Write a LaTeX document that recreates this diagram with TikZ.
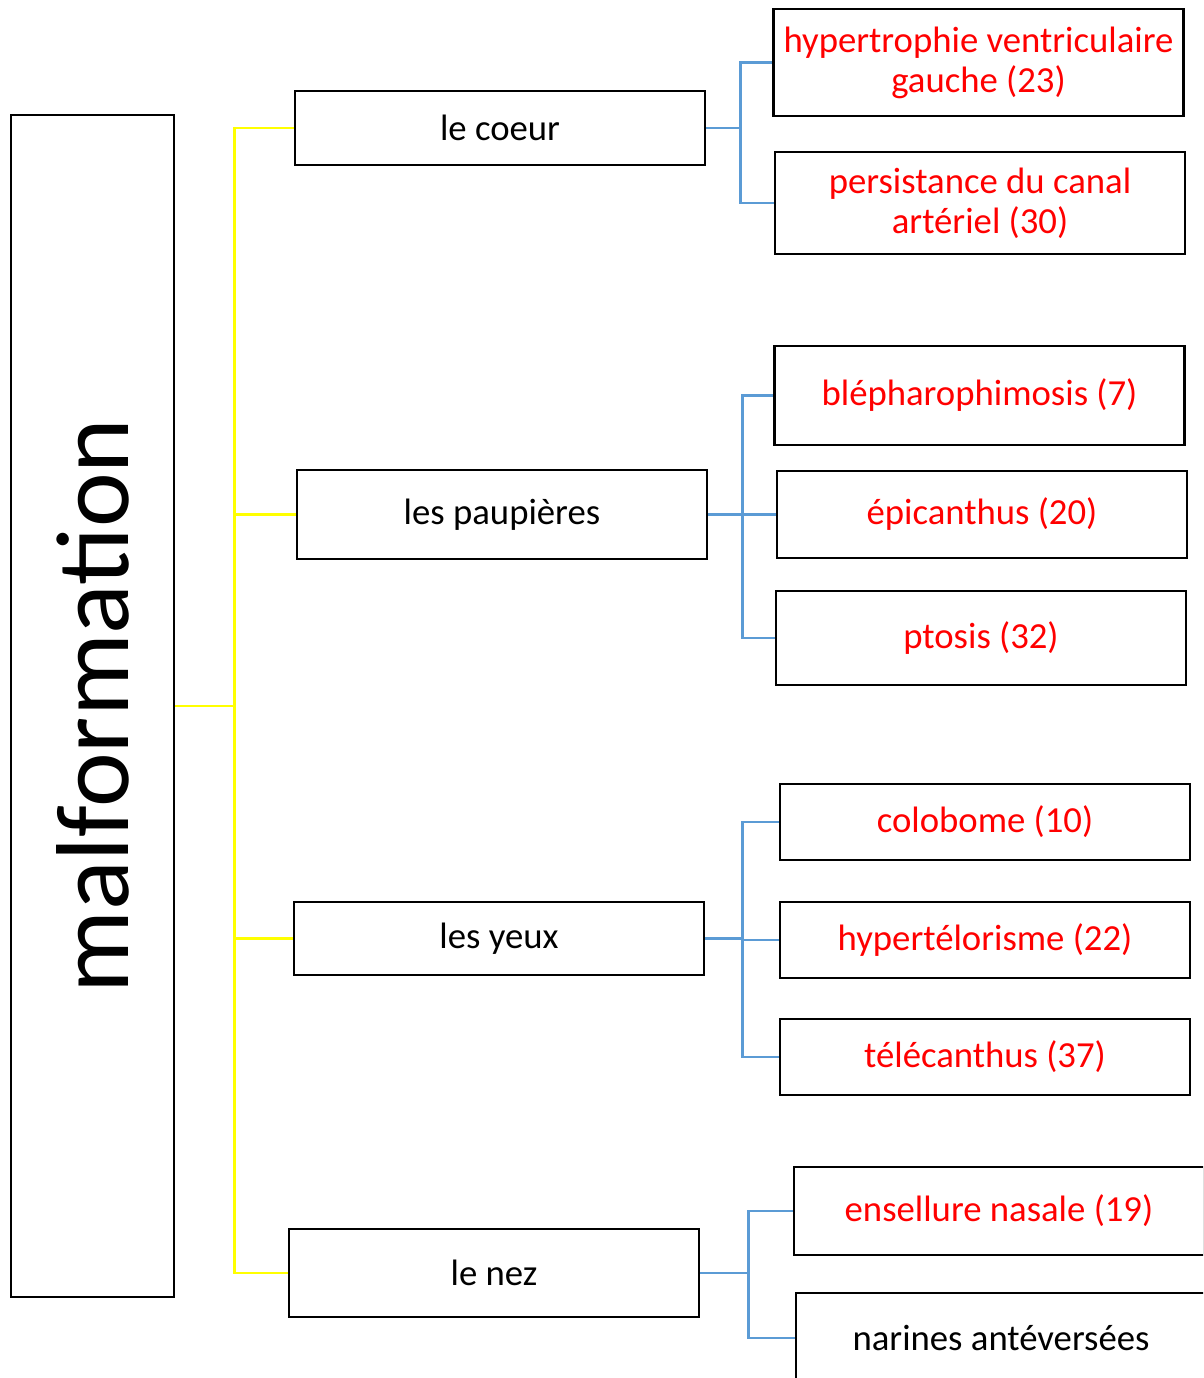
\documentclass[tikz,border=0pt]{standalone}
\usepackage{fontspec}
\setmainfont{Carlito}
\usepackage{tikz}
\usetikzlibrary{positioning}
\definecolor{branchyellow}{RGB}{255,255,0}
\definecolor{leafblue}{RGB}{91,155,213}
\definecolor{findred}{RGB}{255,0,0}

\begin{document}
\begin{tikzpicture}[
    every node/.style={font=\fontsize{20.9}{22.7}\selectfont},
    box/.style={draw=black, line width=1.6pt, fill=white, align=center, inner sep=2pt},
    organ/.style={box, minimum width=8.2cm},
    finding/.style={box, minimum width=8.2cm, text=findred},
    yline/.style={draw=branchyellow, line width=1.4pt},
    bline/.style={draw=leafblue, line width=1.3pt}]
  \path[clip, use as bounding box] (0,0) rectangle (24.06,-27.56);
  % root
  \node[box, rotate=90, minimum width=23.64cm, minimum height=3.26cm,
        font=\fontsize{59}{60}\selectfont] (malf) at (1.85,-14.12) {malformation};
  % organs
  \node[organ, minimum height=1.48cm] (coeur) at (10.00,-2.56)  {le coeur};
  \node[organ, minimum height=1.78cm] (paup)  at (10.04,-10.29) {les paupières};
  \node[organ, minimum height=1.46cm] (yeux)  at (9.98,-18.77)  {les yeux};
  \node[organ, minimum height=1.76cm] (nez)   at (9.88,-25.46)  {le nez};
  % findings
  \node[finding, minimum height=2.14cm] (hvg)  at (19.57,-1.25)  {hypertrophie ventriculaire\\gauche (23)};
  \node[finding, minimum height=2.04cm] (pca)  at (19.60,-4.06)  {persistance du canal\\artériel (30)};
  \node[finding, minimum height=1.98cm] (bleph) at (19.59,-7.91) {blépharophimosis (7)};
  \node[finding, minimum height=1.74cm] (epic) at (19.64,-10.29) {épicanthus (20)};
  \node[finding, minimum height=1.88cm] (ptos) at (19.62,-12.76) {ptosis (32)};
  \node[finding, minimum height=1.52cm] (colob) at (19.70,-16.44) {colobome (10)};
  \node[finding, minimum height=1.52cm] (hypert) at (19.70,-18.80) {hypertélorisme (22)};
  \node[finding, minimum height=1.52cm] (telec) at (19.70,-21.14) {télécanthus (37)};
  \node[finding, minimum height=1.76cm] (ensel) at (19.98,-24.22) {ensellure nasale (19)};
  \node[box, minimum width=8.2cm, minimum height=1.8cm] (narin) at (20.02,-26.76) {narines antéversées};
  % yellow tree
  \draw[yline] (malf.south) -- ++(1.18,0) coordinate (ytrunk);
  \foreach \org in {coeur,paup,yeux,nez}
    \draw[yline] (ytrunk) |- (\org.west);
  % blue branches
  \draw[bline] (coeur.east) -- ++(0.68,0) coordinate (bcoeur);
  \foreach \leaf in {hvg,pca}
    \draw[bline] (bcoeur) |- (\leaf.west);
  \draw[bline] (paup.east) -- ++(0.68,0) coordinate (bpaup);
  \foreach \leaf in {bleph,epic,ptos}
    \draw[bline] (bpaup) |- (\leaf.west);
  \draw[bline] (yeux.east) -- ++(0.74,0) coordinate (byeux);
  \foreach \leaf in {colob,hypert,telec}
    \draw[bline] (byeux) |- (\leaf.west);
  \draw[bline] (nez.east) -- ++(0.96,0) coordinate (bnez);
  \foreach \leaf in {ensel,narin}
    \draw[bline] (bnez) |- (\leaf.west);
\end{tikzpicture}
\end{document}
